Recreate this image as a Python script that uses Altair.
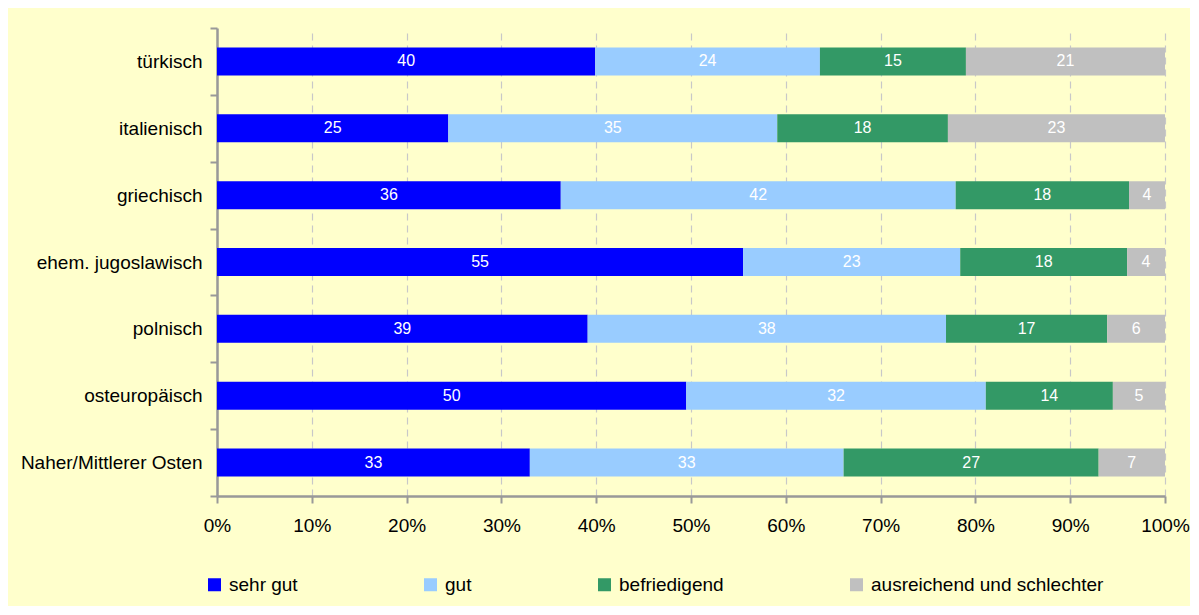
import altair as alt
import pandas as pd

groups = ["türkisch", "italienisch", "griechisch", "ehem. jugoslawisch",
          "polnisch", "osteuropäisch", "Naher/Mittlerer Osten"]
grades = ["sehr gut", "gut", "befriedigend", "ausreichend und schlechter"]
colors = ["#0000FF", "#99CCFF", "#339966", "#C0C0C0"]

# shares (percent)
sehr_gut     = [39.9, 24.4, 36.3, 55.5, 39.1, 49.5, 33.0]
gut          = [23.7, 34.7, 41.7, 22.9, 37.8, 31.6, 33.1]
befriedigend = [15.4, 18.0, 18.3, 17.6, 17.0, 13.4, 26.9]
ausreichend  = [21.0, 22.9, 3.8, 4.0, 6.1, 5.5, 7.0]

# printed labels
lab_sehr_gut     = [40, 25, 36, 55, 39, 50, 33]
lab_gut          = [24, 35, 42, 23, 38, 32, 33]
lab_befriedigend = [15, 18, 18, 18, 17, 14, 27]
lab_ausreichend  = [21, 23, 4, 4, 6, 5, 7]

series = [sehr_gut, gut, befriedigend, ausreichend]
labels = [lab_sehr_gut, lab_gut, lab_befriedigend, lab_ausreichend]

rows = []
for gi, g in enumerate(grades):
    for ci, c in enumerate(groups):
        rows.append({"group": c, "grade": g, "order": gi,
                     "value": series[gi][ci], "label": str(labels[gi][ci])})
df = pd.DataFrame(rows)

FONT = "Liberation Sans"

base = alt.Chart(df).transform_joinaggregate(
    total="sum(value)", groupby=["group"]
).transform_calculate(
    pct="datum.value / datum.total"
).transform_stack(
    stack="pct", groupby=["group"], as_=["x0", "x1"],
    sort=[alt.SortField("order", order="ascending")]
).transform_calculate(
    mid="(datum.x0 + datum.x1) / 2"
)

yscale = alt.Scale(paddingInner=0, paddingOuter=0)

yenc = alt.Y("group:N", sort=groups, title=None, scale=yscale,
             axis=alt.Axis(labelFont=FONT, labelFontSize=19, labelColor="black",
                           tickBand="extent", tickSize=7, tickColor="#999999",
                           tickWidth=2, domainColor="#999999", domainWidth=2.5,
                           labelPadding=8, labelLimit=400, grid=False))

bars = base.mark_bar(size=28).encode(
    x=alt.X("x0:Q", title=None,
            scale=alt.Scale(domain=[0, 1], nice=False),
            axis=alt.Axis(format="%", values=[i / 10 for i in range(11)],
                          labelFont=FONT, labelFontSize=19, labelColor="black",
                          labelFlush=False, labelOverlap=False,
                          tickSize=7, tickColor="#999999", tickWidth=2,
                          domainColor="#999999", domainWidth=2.5,
                          labelPadding=13, grid=True, gridColor="#C8C8C8",
                          gridDash=[7, 5], gridWidth=1.2)),
    x2="x1:Q",
    y=yenc,
    color=alt.Color("grade:N", sort=grades,
                    scale=alt.Scale(domain=grades, range=colors),
                    legend=alt.Legend(title=None, orient="none", direction="horizontal",
                                      legendX=-12, legendY=547,
                                      symbolType="square", symbolSize=169,
                                      symbolStrokeWidth=0, labelFont=FONT,
                                      labelFontSize=19, labelColor="black",
                                      labelOffset=5, columnPadding=123,
                                      labelLimit=400)),
    order=alt.Order("order:Q"),
)

texts = base.mark_text(color="white", font=FONT, fontSize=16, baseline="middle",
                       align="center").encode(
    x="mid:Q",
    y=alt.Y("group:N", sort=groups, scale=yscale),
    text="label:N",
)

chart = alt.layer(bars, texts).properties(
    width=948, height=468,
    background="#FFFFCC",
    autosize=alt.AutoSizeParams(type="none"),
    padding={"left": 209, "top": 20, "right": 25, "bottom": 110},
).configure_view(stroke=None)

chart.save("out.html", embed_options={"renderer": "svg", "actions": False})
